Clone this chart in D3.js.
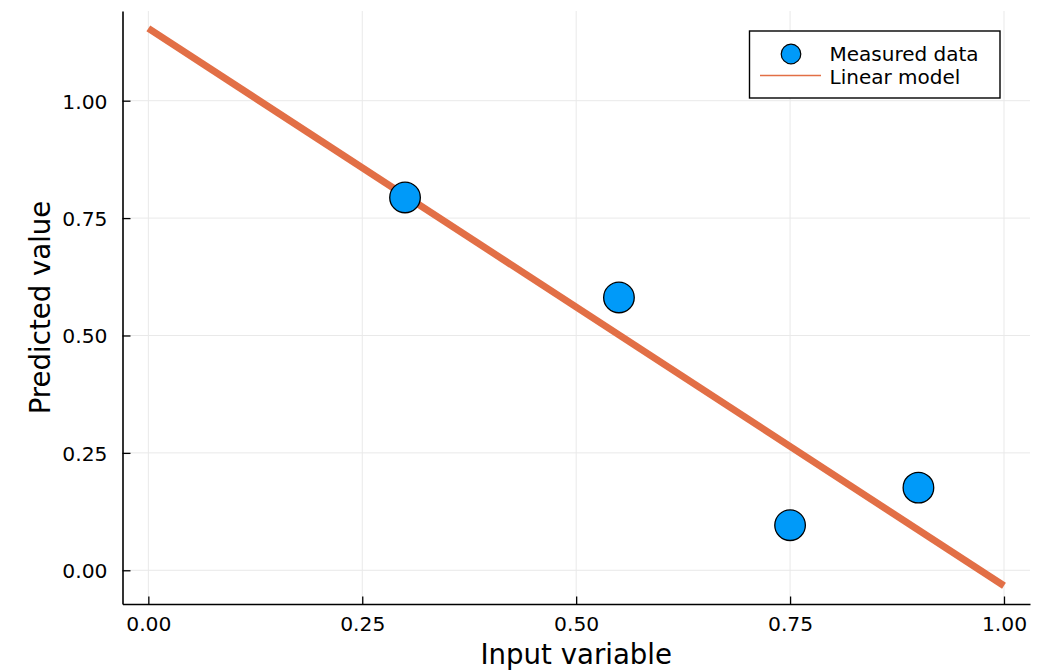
<!DOCTYPE html>
<html>
<head>
<meta charset="utf-8">
<script src="https://cdn.jsdelivr.net/npm/d3@7"></script>
<style>
  html, body { margin: 0; padding: 0; background: #ffffff; }
  svg { display: block; font-family: "DejaVu Sans", sans-serif; }
</style>
</head>
<body>
<svg id="chart" width="1042" height="671"></svg>
<script>
// Measured observations
const inputX = [0.30, 0.55, 0.75, 0.90];
const measuredY = [0.794, 0.581, 0.096, 0.176];

// Fitted linear model, evaluated at the ends of the input range
const modelX = [0.0, 1.0];
const modelY = [1.154, -0.033];

// Tick values and labels
const xTicks = [0.00, 0.25, 0.50, 0.75, 1.00];
const yTicks = [0.00, 0.25, 0.50, 0.75, 1.00];
const xTickLabels = ["0.00", "0.25", "0.50", "0.75", "1.00"];
const yTickLabels = ["0.00", "0.25", "0.50", "0.75", "1.00"];

const seriesNames = ["Measured data", "Linear model"];
const axisTitles = { x: "Input variable", y: "Predicted value" };

const svg = d3.select("#chart");
const plot = { left: 122.5, right: 1030, top: 11, bottom: 604 };

const x = d3.scaleLinear().domain([-0.0302, 1.0304]).range([plot.left, plot.right]);
const y = d3.scaleLinear().domain([-0.0718, 1.191]).range([plot.bottom, plot.top]);

const blue = "#009af9";
const orange = "#e26f46";

// Grid
const grid = svg.append("g").attr("stroke", "#e9e9e9").attr("stroke-width", 1);
grid.selectAll("line.gx").data(xTicks).join("line")
  .attr("x1", d => x(d)).attr("x2", d => x(d))
  .attr("y1", plot.top).attr("y2", plot.bottom);
grid.selectAll("line.gy").data(yTicks).join("line")
  .attr("y1", d => y(d)).attr("y2", d => y(d))
  .attr("x1", plot.left).attr("x2", plot.right);

// Axes with inward ticks
const xAxis = d3.axisBottom(x).tickValues(xTicks)
  .tickFormat((d, i) => xTickLabels[i]).tickSizeInner(-7.5).tickSizeOuter(0).tickPadding(13);
const yAxis = d3.axisLeft(y).tickValues(yTicks)
  .tickFormat((d, i) => yTickLabels[i]).tickSizeInner(-8).tickSizeOuter(0).tickPadding(15);

const gx = svg.append("g").attr("transform", `translate(0,${plot.bottom})`).call(xAxis);
const gy = svg.append("g").attr("transform", `translate(${plot.left},0)`).call(yAxis);
[gx, gy].forEach(g => {
  g.select(".domain").attr("stroke", "#000").attr("stroke-width", 1.6);
  g.selectAll(".tick line").attr("stroke", "#000").attr("stroke-width", 1.3);
  g.selectAll(".tick text").attr("fill", "#000")
    .style("font-family", "DejaVu Sans").style("font-size", "20.3px");
});
gx.selectAll(".tick text").attr("dy", "0.71em");
gy.selectAll(".tick text").attr("dy", "0.36em");

// Model line
svg.append("path")
  .datum(modelX.map((d, i) => [d, modelY[i]]))
  .attr("fill", "none").attr("stroke", orange).attr("stroke-width", 7)
  .attr("d", d3.line().x(d => x(d[0])).y(d => y(d[1])));

// Observations
svg.append("g").selectAll("circle").data(inputX.map((d, i) => [d, measuredY[i]])).join("circle")
  .attr("cx", d => x(d[0])).attr("cy", d => y(d[1])).attr("r", 15.3)
  .attr("fill", blue).attr("stroke", "#000").attr("stroke-width", 1.3);

// Axis titles
svg.append("text").attr("x", (plot.left + plot.right) / 2).attr("y", 664)
  .attr("text-anchor", "middle").style("font-size", "27.6px").text(axisTitles.x);
svg.append("text")
  .attr("transform", `translate(50,${(plot.top + plot.bottom) / 2}) rotate(-90)`)
  .attr("text-anchor", "middle").style("font-size", "27.6px").text(axisTitles.y);

// Legend
const legend = svg.append("g");
legend.append("rect").attr("x", 749.5).attr("y", 31).attr("width", 250.5).attr("height", 67)
  .attr("fill", "#fff").attr("stroke", "#000").attr("stroke-width", 1.4);
legend.append("circle").attr("cx", 791).attr("cy", 54).attr("r", 9.8)
  .attr("fill", blue).attr("stroke", "#000").attr("stroke-width", 1.2);
legend.append("line").attr("x1", 760).attr("x2", 821).attr("y1", 75.5).attr("y2", 75.5)
  .attr("stroke", orange).attr("stroke-width", 1.6);
legend.append("text").attr("x", 829.5).attr("y", 60.5).style("font-size", "20px").text(seriesNames[0]);
legend.append("text").attr("x", 829.5).attr("y", 83.5).style("font-size", "20px").text(seriesNames[1]);
</script>
</body>
</html>
